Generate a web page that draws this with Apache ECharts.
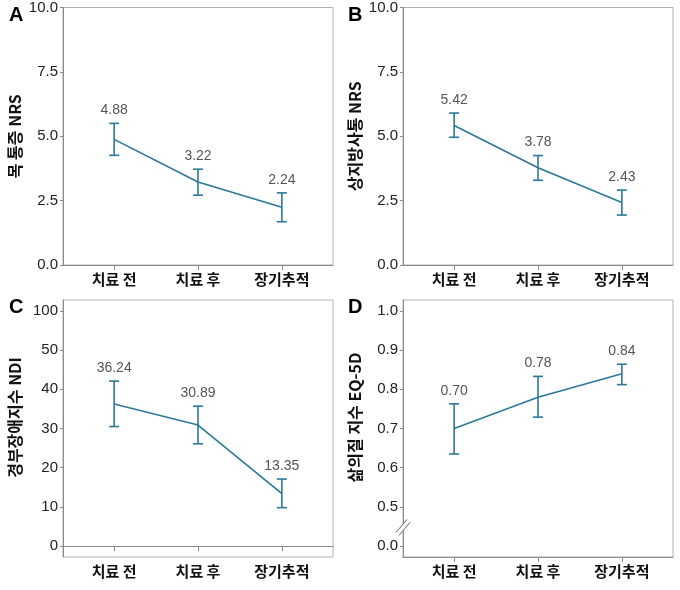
<!DOCTYPE html>
<html>
<head>
<meta charset="utf-8">
<script src="https://cdn.jsdelivr.net/npm/echarts@6/dist/echarts.min.js"></script>
<style>html,body{margin:0;padding:0;background:#fff}#c{width:680px;height:590px}</style>
</head>
<body>
<div id="c"></div>
<script>
var categories = ['치료 전', '치료 후', '장기추적'];

var meanA = [4.88, 3.22, 2.24];
var upperA = [5.50, 3.72, 2.80];
var lowerA = [4.26, 2.71, 1.68];

var meanB = [5.42, 3.78, 2.43];
var upperB = [5.90, 4.25, 2.91];
var lowerB = [4.96, 3.29, 1.94];

var meanC = [36.24, 30.89, 13.35];
var upperC = [42.1, 35.7, 17.1];
var lowerC = [30.5, 26.1, 9.8];

var meanD = [0.70, 0.78, 0.84];
var upperD = [0.763, 0.833, 0.864];
var lowerD = [0.635, 0.729, 0.812];

var ticksA = [0, 2.5, 5, 7.5, 10];
var ticksB = [0, 2.5, 5, 7.5, 10];
// panel C: axis broken between 50 and 100; 100 is drawn one step above 50
var ticksC = [0, 10, 20, 30, 40, 50, 60];
var tickLabelsC = ['0', '10', '20', '30', '40', '50', '100'];
// panel D: axis broken between 0.0 and 0.5; 0.0 is drawn one step below 0.5
var ticksD = [0.4, 0.5, 0.6, 0.7, 0.8, 0.9, 1.0];
var tickLabelsD = ['0.0', '0.5', '0.6', '0.7', '0.8', '0.9', '1.0'];

var yNames = ['목 통증 NRS', '상지방사통 NRS', '경부장애지수 NDI', '삶의질 지수 EQ-5D'];
var panelLetters = ['A', 'B', 'C', 'D'];

var COLOR = '#2b7898';
var AXIS = '#8a8a8a';

var chart = echarts.init(document.getElementById('c'));

var grids = [
  {left: 63, top: 7, width: 270, height: 258},
  {left: 403, top: 7, width: 270, height: 258},
  {left: 63, top: 300, width: 270, height: 257},
  {left: 403, top: 300, width: 270, height: 257}
];
grids.forEach(function (g) { g.show = true; g.borderColor = '#b0b0b0'; g.borderWidth = 1; g.backgroundColor = 'transparent'; });

var xAxes = grids.map(function (g, i) {
  return {
    type: 'value', gridIndex: i, min: 0.39, max: 3.61,
    axisLine: {show: true, lineStyle: {color: AXIS, width: 1}},
    axisTick: {show: true, length: 5, lineStyle: {color: AXIS}, customValues: [1, 2, 3]},
    axisLabel: {show: true, customValues: [1, 2, 3], margin: 7,
      formatter: function (v) { return categories[Math.round(v) - 1] || ''; },
      fontFamily: '"Noto Sans CJK KR", sans-serif', fontWeight: 'bold', fontSize: 15, color: '#111'},
    splitLine: {show: false}
  };
});

function yAxis(i, min, max, ticks, labels, digits, shift) {
  return {
    type: 'value', gridIndex: i, min: min, max: max,
    name: yNames[i], nameLocation: 'middle', nameGap: 40, nameRotate: 90,
    nameTextStyle: {fontFamily: '"Noto Sans CJK KR", sans-serif', fontWeight: 'bold', fontSize: 16, color: '#111',
      padding: [0, 0, 0, shift]},
    axisLine: {show: true, lineStyle: {color: AXIS, width: 1}},
    axisTick: {show: true, length: 3, lineStyle: {color: AXIS}, customValues: ticks},
    axisLabel: {show: true, customValues: ticks, margin: 5,
      fontFamily: '"Liberation Sans", Arial, sans-serif', fontSize: 15, color: '#222',
      formatter: function (v) {
        var idx = -1;
        for (var k = 0; k < ticks.length; k++) { if (Math.abs(ticks[k] - v) < 1e-6) idx = k; }
        if (labels && idx >= 0) return labels[idx];
        return v.toFixed(digits);
      }},
    splitLine: {show: false}
  };
}

var yAxes = [
  yAxis(0, 0, 10, ticksA, null, 1, 0),
  yAxis(1, 0, 10, ticksB, null, 1, 0),
  yAxis(2, -2.8, 62.8, ticksC, tickLabelsC, 0, 22),
  yAxis(3, 0.372, 1.028, ticksD, tickLabelsD, 1, 22)
];

var means = [meanA, meanB, meanC, meanD];
var uppers = [upperA, upperB, upperC, upperD];
var lowers = [lowerA, lowerB, lowerC, lowerD];

var series = [];
means.forEach(function (m, i) {
  series.push({
    type: 'line', xAxisIndex: i, yAxisIndex: i,
    data: m.map(function (v, k) { return [k + 1, v]; }),
    symbol: 'none', lineStyle: {color: COLOR, width: 1.6}, silent: true, z: 3
  });
  series.push({
    type: 'custom', xAxisIndex: i, yAxisIndex: i, z: 4, silent: true,
    data: m.map(function (v, k) { return [k + 1, lowers[i][k], uppers[i][k], v]; }),
    renderItem: function (params, api) {
      var x = api.value(0);
      var lo = api.coord([x, api.value(1)]);
      var hi = api.coord([x, api.value(2)]);
      var w = 5;
      var st = {stroke: COLOR, lineWidth: 1.6, fill: null};
      return {
        type: 'group',
        children: [
          {type: 'line', shape: {x1: hi[0], y1: hi[1], x2: lo[0], y2: lo[1]}, style: st},
          {type: 'line', shape: {x1: hi[0] - w, y1: hi[1], x2: hi[0] + w, y2: hi[1]}, style: st},
          {type: 'line', shape: {x1: lo[0] - w, y1: lo[1], x2: lo[0] + w, y2: lo[1]}, style: st},
          {type: 'text', x: hi[0], y: hi[1] - 6,
            style: {text: api.value(3).toFixed(2), textAlign: 'center', textVerticalAlign: 'bottom',
              fill: '#555', fontSize: 14, fontFamily: '"Liberation Sans", Arial, sans-serif'}}
        ]
      };
    }
  });
});

// break mark on panel D y-axis, between 0.0 and 0.5
series.push({
  type: 'custom', xAxisIndex: 3, yAxisIndex: 3, z: 10, silent: true,
  data: [[0.39, 0.45]],
  renderItem: function (params, api) {
    var p = api.coord([api.value(0), api.value(1)]);
    var st = {stroke: '#666', lineWidth: 1};
    return {
      type: 'group',
      children: [
        {type: 'polygon', shape: {points: [[p[0] - 7, p[1] + 6], [p[0] - 4, p[1] + 9], [p[0] + 7, p[1] - 4], [p[0] + 4, p[1] - 7]]}, style: {fill: '#fff'}},
        {type: 'line', shape: {x1: p[0] - 7, y1: p[1] + 6, x2: p[0] + 4, y2: p[1] - 7}, style: st},
        {type: 'line', shape: {x1: p[0] - 4, y1: p[1] + 9, x2: p[0] + 7, y2: p[1] - 4}, style: st}
      ]
    };
  }
});

var titles = panelLetters.map(function (t, i) {
  var pos = [[9, 5], [348, 5], [9, 297], [348, 297]][i];
  return {text: t, left: pos[0], top: pos[1], padding: 0,
    textStyle: {fontFamily: '"Liberation Sans", Arial, sans-serif', fontWeight: 'bold', fontSize: 20, color: '#000'}};
});

chart.setOption({
  animation: false,
  title: titles,
  grid: grids,
  xAxis: xAxes,
  yAxis: yAxes,
  series: series
});
</script>
</body>
</html>
